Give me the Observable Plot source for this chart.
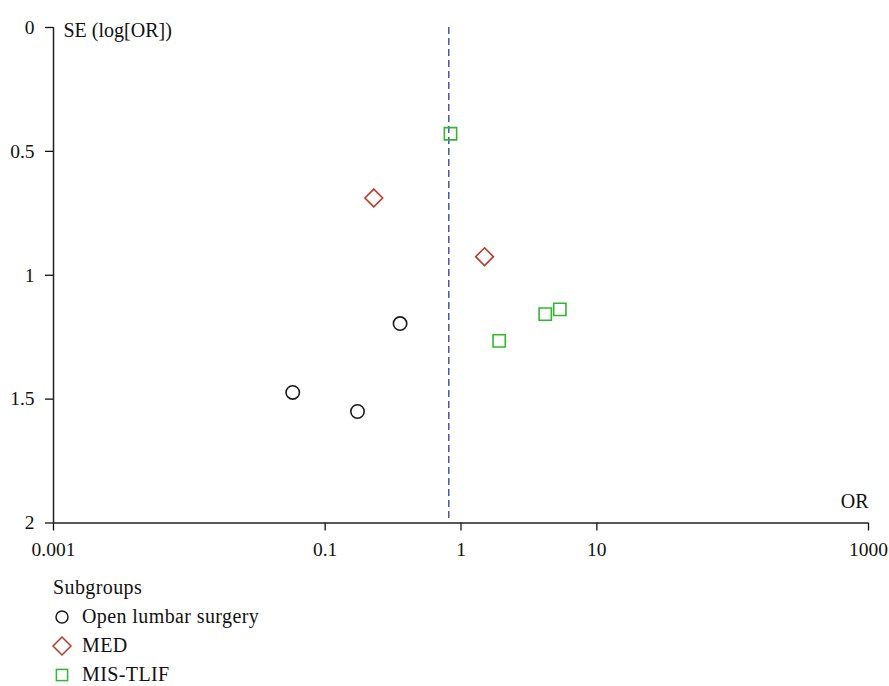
<!DOCTYPE html>
<html>
<head>
<meta charset="utf-8">
<script src="https://cdn.jsdelivr.net/npm/d3@7"></script>
<script src="https://cdn.jsdelivr.net/npm/@observablehq/plot@0.6"></script>
<style>
  body { margin: 0; background: #fff; font-family: "Liberation Serif", "DejaVu Serif", serif; }
  #legend { padding-top: 12px; padding-left: 53px; font-size: 20px; letter-spacing: 0.4px; color: #111; }
  #legend .row { height: 29px; line-height: 29px; display: flex; align-items: center; white-space: nowrap; }
  #legend .row svg { width: 22px; height: 22px; margin-left: -2px; margin-right: 9px; }
</style>
</head>
<body>
<div id="chart"></div>
<div id="legend"></div>
<script>
// Data
const studyOR    = [0.837, 0.228, 1.49, 0.356, 0.0577, 0.173, 1.91, 4.17, 5.34];
const studySE    = [0.429, 0.688, 0.925, 1.195, 1.473, 1.550, 1.265, 1.157, 1.138];
const studyGroup = ["MIS-TLIF", "MED", "MED", "Open lumbar surgery", "Open lumbar surgery",
                    "Open lumbar surgery", "MIS-TLIF", "MIS-TLIF", "MIS-TLIF"];
const pooledOR = [0.813];
const groups = ["Open lumbar surgery", "MED", "MIS-TLIF"];
const groupColors = ["#1a1a1a", "#c0392b", "#33b533"];
const groupSymbols = ["circle", "diamond2", "square2"];
const groupR = [6.7, 8, 7.8];
const xTicks = [0.001, 0.1, 1, 10, 1000];
const yTicks = [0, 0.5, 1, 1.5, 2];

const data = studyOR.map((or, i) => ({or, se: studySE[i], group: studyGroup[i]}));

const dotMarks = groups.map((g, gi) =>
  Plot.dot(data.filter(d => d.group === g), {
    x: "or", y: "se", symbol: () => groupSymbols[gi], r: groupR[gi],
    stroke: groupColors[gi], strokeWidth: 1.6, fill: "none"
  })
);

const chart = Plot.plot({
  width: 889,
  height: 561,
  marginLeft: 53,
  marginRight: 21,
  marginTop: 27,
  marginBottom: 38.5,
  style: {fontFamily: '"Liberation Serif", serif', fontSize: "19.5px", color: "#111", background: "#fff"},
  x: {type: "log", domain: [0.001, 1000]},
  y: {domain: [0, 2], reverse: true},
  symbol: {type: "identity"},
  marks: [
    Plot.axisX({ticks: xTicks, tickFormat: d => String(d), tickSize: 8, tickPadding: 11, label: null, strokeWidth: 1.3, fontSize: 19.5}),
    Plot.axisY({ticks: yTicks, tickFormat: d => String(d), tickSize: 8, tickPadding: 11, label: null, strokeWidth: 1.3, fontSize: 19.5}),
    Plot.ruleX([0.001], {stroke: "#222", strokeWidth: 1.5}),
    Plot.ruleY([2], {stroke: "#222", strokeWidth: 1.5}),
    Plot.ruleX(pooledOR, {stroke: "#3a4ba5", strokeWidth: 1.4, strokeDasharray: "7,4"}),
    ...dotMarks,
    Plot.text(["SE (log[OR])"], {frameAnchor: "top-left", dx: 10, dy: -5, textAnchor: "start", fontSize: 20}),
    Plot.text(["OR"], {frameAnchor: "bottom-right", dy: -15, textAnchor: "end", fontSize: 20})
  ]
});
document.getElementById("chart").appendChild(chart);

// Legend
const legend = document.getElementById("legend");
const title = document.createElement("div");
title.className = "row";
title.textContent = "Subgroups";
legend.appendChild(title);
groups.forEach((g, gi) => {
  const row = document.createElement("div");
  row.className = "row";
  const sym = d3.create("svg").attr("viewBox", "-11 -11 22 22");
  const sizes = [6, 9, 5.6];
  if (groupSymbols[gi] === "circle") {
    sym.append("circle").attr("r", sizes[gi]);
  } else if (groupSymbols[gi] === "diamond2") {
    const s = sizes[gi];
    sym.append("path").attr("d", `M0,${-s}L${s},0L0,${s}L${-s},0Z`);
  } else {
    const s = sizes[gi];
    sym.append("rect").attr("x", -s).attr("y", -s).attr("width", 2 * s).attr("height", 2 * s);
  }
  sym.selectAll("*").attr("fill", "none").attr("stroke", groupColors[gi]).attr("stroke-width", 1.5);
  row.appendChild(sym.node());
  const label = document.createElement("span");
  label.textContent = g;
  row.appendChild(label);
  legend.appendChild(row);
});
</script>
</body>
</html>
